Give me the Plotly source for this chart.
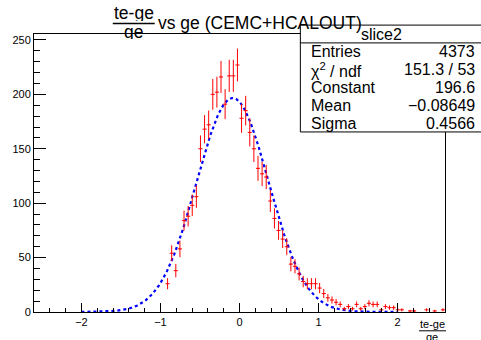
import numpy as np
import plotly.graph_objects as go

# ---- data ----
bin_lo, bin_hi, nbins = -2.6, 2.6, 100
bin_index = [32, 33, 34, 35, 36, 37, 38, 39, 40, 41, 42, 43, 44, 45, 46, 47, 48, 49,
             50, 51, 52, 53, 54, 55, 56, 57, 58, 59, 60, 61, 62, 63, 64, 65, 66, 67,
             68, 69, 70, 71, 72, 73, 74, 75, 76, 77, 78, 79, 80, 81, 82, 83, 84, 85,
             86, 87, 88, 89, 91, 92, 95, 97, 99]
counts = [26, 54, 38, 58, 84, 88, 98, 106, 150, 168, 172, 200, 202, 216, 191, 217, 217, 227,
          178, 185, 165, 150, 132, 127, 124, 102, 86, 75, 67, 60, 44, 42, 35, 28, 26, 26,
          26, 22, 17, 13, 11, 9, 7, 3, 5, 3, 7, 3, 5, 8, 7, 7, 2, 5,
          4, 4, 2, 2, 1, 1, 2, 1, 2]
fit_const, fit_mean, fit_sigma = 196.6, -0.08649, 0.4566
fit_range = [-2.0, 2.0]
stats_labels = ["Entries", "χ<sup>2</sup> / ndf", "Constant", "Mean", "Sigma"]
stats_values = ["4373", "151.3 / 53", "196.6", "−0.08649", "0.4566"]

bw = (bin_hi - bin_lo) / nbins
xc = [bin_lo + bw * (i + 0.5) for i in bin_index]
err = [np.sqrt(c) for c in counts]

xf = np.linspace(fit_range[0], fit_range[1], 400)
yf = fit_const * np.exp(-0.5 * ((xf - fit_mean) / fit_sigma) ** 2)

W, H = 481, 340
L, R, T, B = 33, 445, 34, 315
FONT = "Liberation Sans, Arial, sans-serif"

def px(x):
    return (x - L) / (R - L)

def py(y):
    return (B - y) / (B - T)

fig = go.Figure()
fig.add_trace(go.Scatter(
    x=xf, y=yf, mode="lines",
    line=dict(color="#0000ff", width=2.2, dash="dot"),
    hoverinfo="skip", showlegend=False))
fig.add_trace(go.Scatter(
    x=xc, y=counts, mode="markers",
    marker=dict(size=1, color="#ff0000"),
    error_y=dict(type="data", array=err, color="#ff0000", thickness=1, width=0),
    error_x=dict(type="constant", value=bw / 2, color="#ff0000", thickness=1, width=0),
    showlegend=False))

box_top, box_sep, box_bot = 25, 43, 133
shapes = []
# stats box
shapes.append(dict(type="rect", xref="paper", yref="paper",
                   x0=px(300), x1=px(483), y0=py(box_bot), y1=py(box_top),
                   line=dict(color="black", width=1), fillcolor="white", layer="above"))
shapes.append(dict(type="line", xref="paper", yref="paper",
                   x0=px(300), x1=px(483), y0=py(box_sep), y1=py(box_sep),
                   line=dict(color="black", width=1), layer="above"))
# title fraction bar
shapes.append(dict(type="line", xref="paper", yref="paper",
                   x0=px(112), x1=px(154), y0=py(23.5), y1=py(23.5),
                   line=dict(color="black", width=1.5), layer="above"))
# x-axis title fraction bar
shapes.append(dict(type="line", xref="paper", yref="paper",
                   x0=px(419), x1=px(446), y0=py(334), y1=py(334),
                   line=dict(color="black", width=1), layer="above"))

ann = []
def text(xp, yp, s, size, xanchor="center", yanchor="middle", height=None):
    a = dict(xref="paper", yref="paper", x=px(xp), y=py(yp), text=s,
             showarrow=False, xanchor=xanchor, yanchor=yanchor,
             font=dict(family=FONT, size=size, color="black"))
    if height is not None:
        a["height"] = height
    ann.append(a)

text(133, 12.5, "te-ge", 17.5, height=17)
text(133, 31.5, "ge", 17.5, height=15)
text(155, 23, "vs ge (CEMC+HCALOUT)", 17.5, xanchor="left")
text(381, 34, "slice2", 16)
rows_y = [52, 70, 88, 106, 124]
for lab, val, yy in zip(stats_labels, stats_values, rows_y):
    text(309, yy, lab, 16, xanchor="left")
    text(477, yy, val, 16, xanchor="right")
text(432, 327, "te-ge", 11, height=12)
text(432, 340, "ge", 11, height=12)

fig.update_layout(
    width=W, height=H,
    margin=dict(l=L, r=W - R, t=T, b=H - B, pad=0),
    paper_bgcolor="white", plot_bgcolor="white",
    shapes=shapes, annotations=ann,
    font=dict(family=FONT, size=11, color="black"),
    xaxis=dict(range=[bin_lo, bin_hi], showgrid=False, zeroline=False,
               showline=True, linecolor="black", linewidth=1, mirror=True,
               ticks="inside", ticklen=9, tickcolor="black", dtick=1, tick0=0,
               minor=dict(dtick=0.2, ticklen=4, ticks="inside", tickcolor="black", showgrid=False),
               tickfont=dict(size=11)),
    yaxis=dict(range=[0, (B - T) / 1.1], showgrid=False, zeroline=False,
               showline=True, linecolor="black", linewidth=1, mirror=True,
               ticks="inside", ticklen=12, tickcolor="black", dtick=50, tick0=0,
               minor=dict(dtick=10, ticklen=6, ticks="inside", tickcolor="black", showgrid=False),
               tickfont=dict(size=11)),
)

fig.write_html("out.html")
